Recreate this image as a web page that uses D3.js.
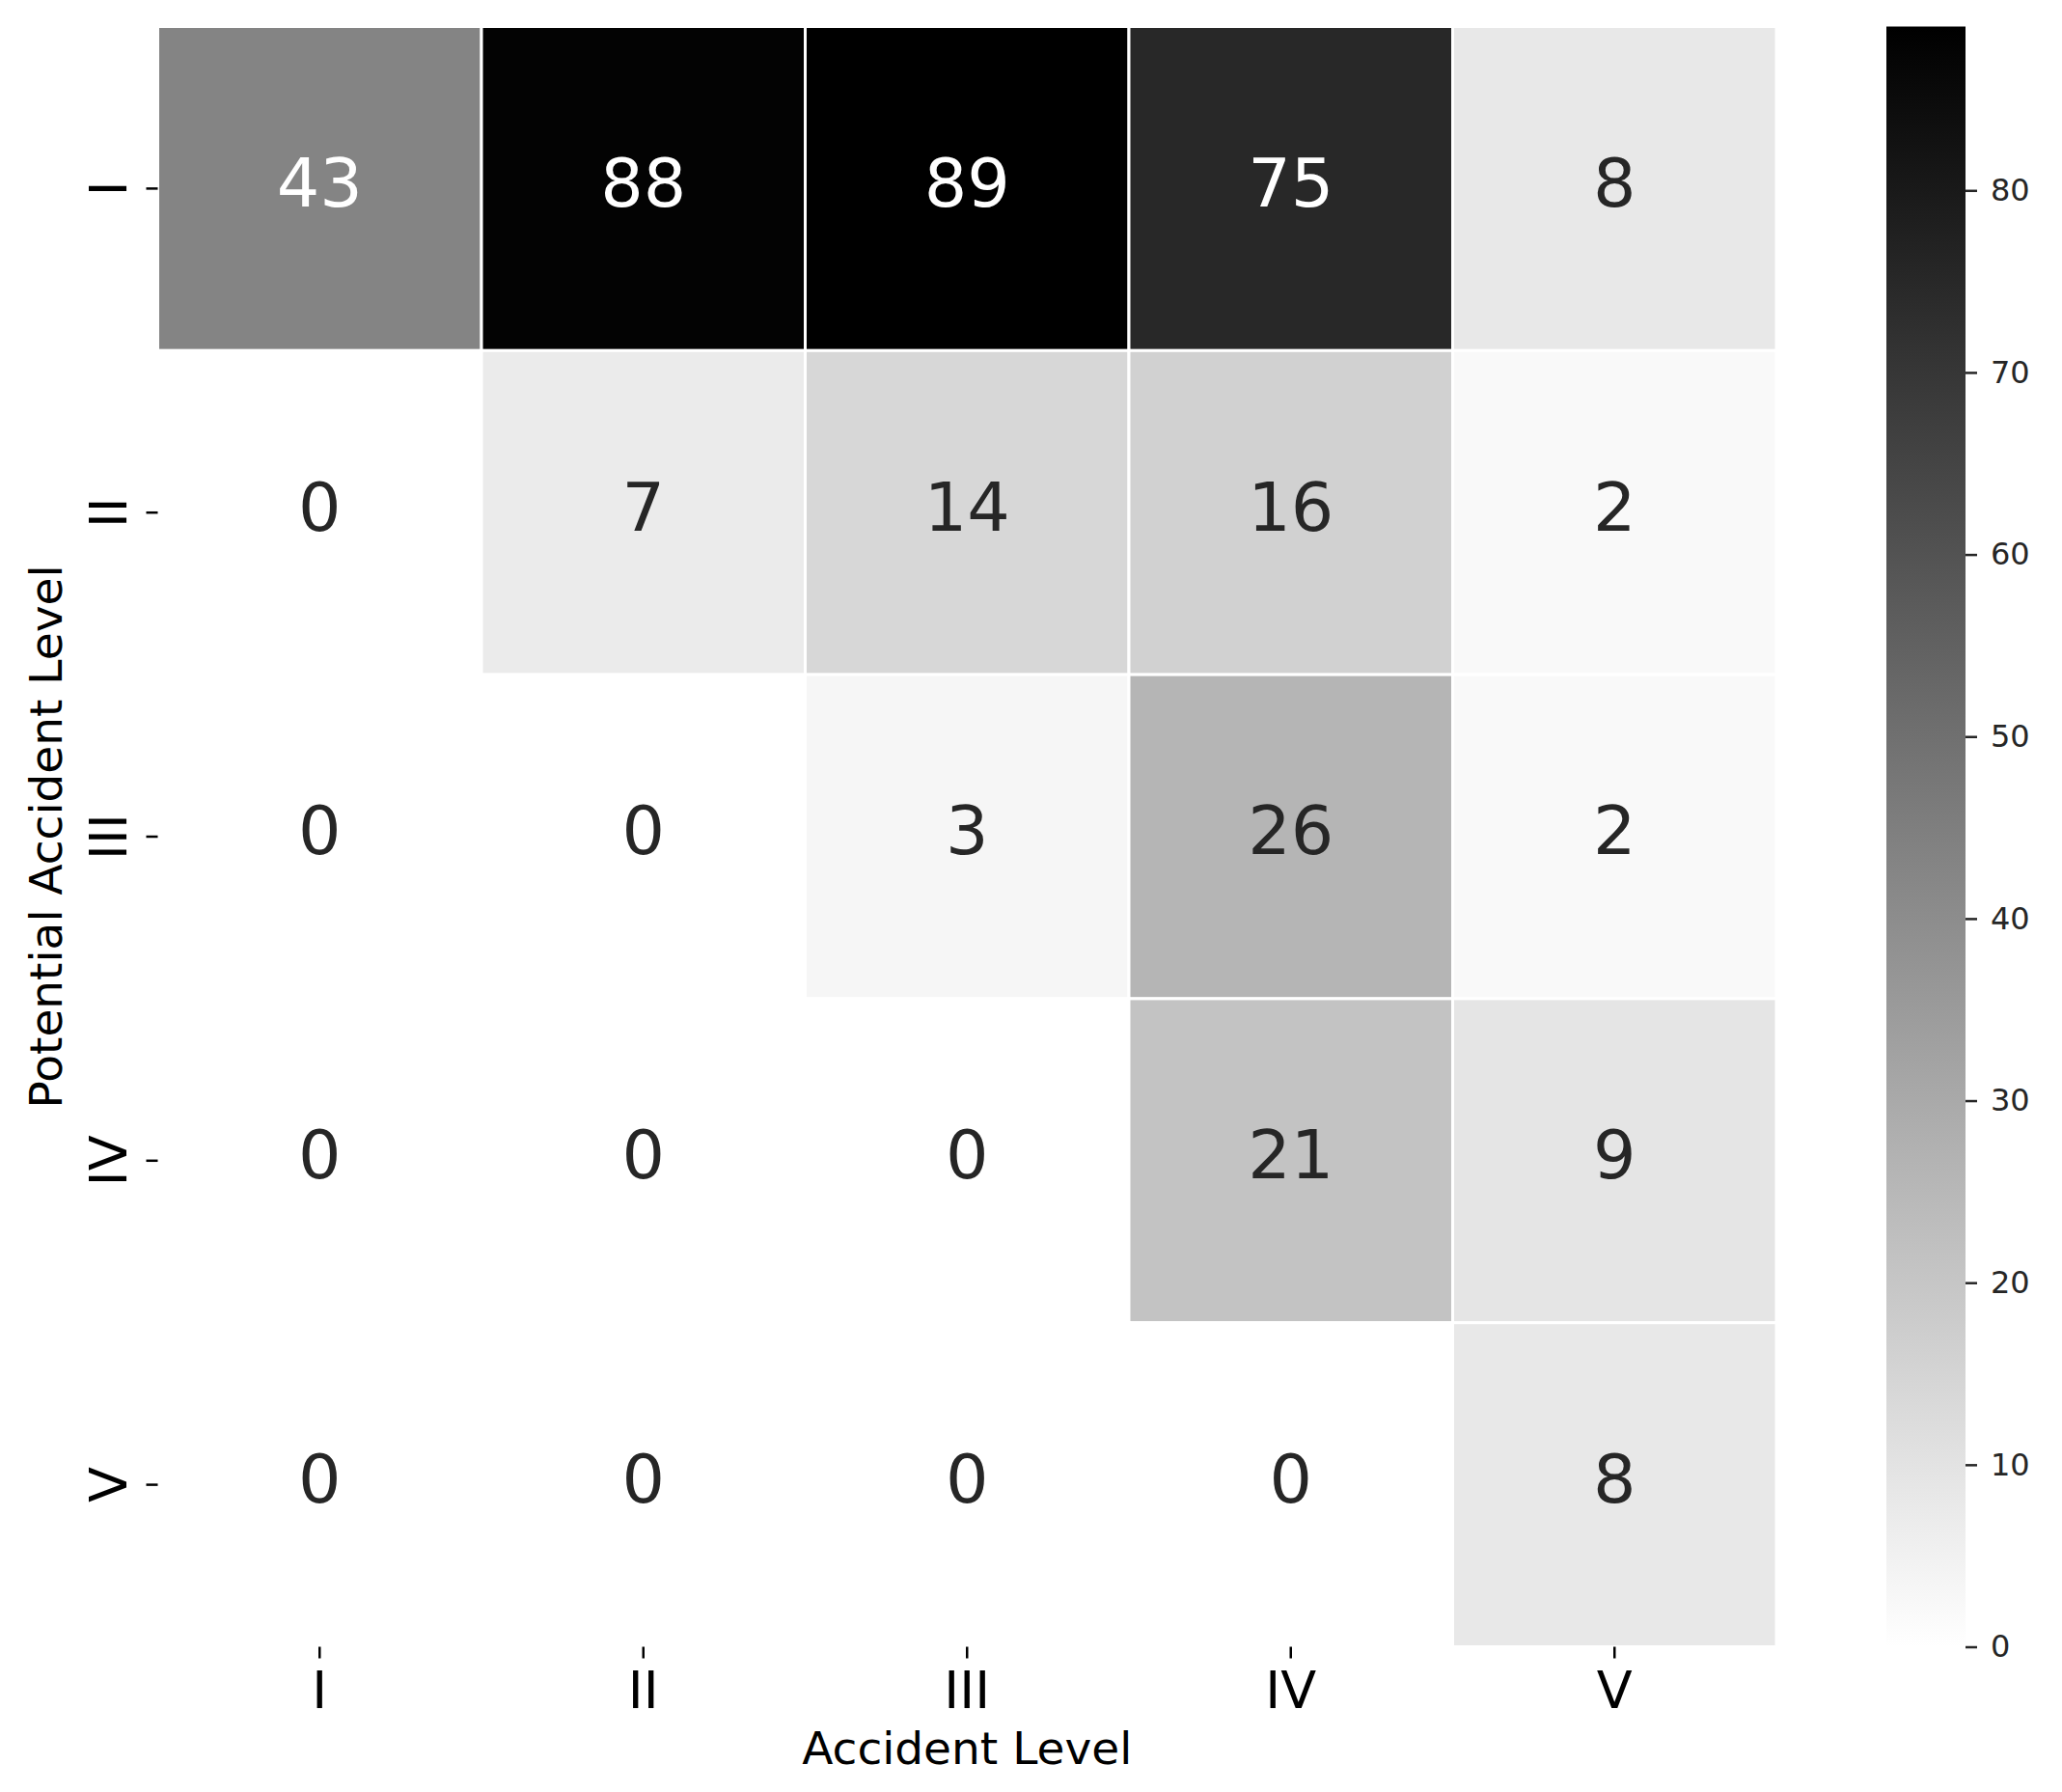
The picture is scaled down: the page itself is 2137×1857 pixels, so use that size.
<!DOCTYPE html>
<html>
<head>
<meta charset="utf-8">
<script src="https://cdn.jsdelivr.net/npm/d3@7"></script>
<style>
  body { margin: 0; background: #fff; }
  text { font-family: "DejaVu Sans", sans-serif; }
</style>
</head>
<body>
<div id="chart"></div>
<script>
// level names (same for both axes)
const accidentLevels = ["I", "II", "III", "IV", "V"];
const potentialLevels = ["I", "II", "III", "IV", "V"];

// counts: one array per potential accident level (row), columns = accident level
const rowI = [43, 88, 89, 75, 8];
const rowII = [0, 7, 14, 16, 2];
const rowIII = [0, 0, 3, 26, 2];
const rowIV = [0, 0, 0, 21, 9];
const rowV = [0, 0, 0, 0, 8];
const counts = [rowI, rowII, rowIII, rowIV, rowV];

const colorbarTicks = [0, 10, 20, 30, 40, 50, 60, 70, 80];

// page size
const W = 2137, H = 1857;
// heatmap area
const hm = { left: 163.5, right: 1841, top: 27.5, bottom: 1706.5 };
// colorbar area
const cb = { left: 1955, right: 2037 };

const svg = d3.select("#chart")
  .append("svg")
  .attr("width", W)
  .attr("height", H)
  .style("background", "#fff");

const vmax = d3.max(counts.flat());

// linear white -> black
const color = d3.scaleLinear()
  .domain([0, vmax])
  .range(["#ffffff", "#000000"])
  .interpolate(d3.interpolateRgb);

const x = d3.scaleBand()
  .domain(accidentLevels)
  .range([hm.left, hm.right]);

const y = d3.scaleBand()
  .domain(potentialLevels)
  .range([hm.top, hm.bottom]);

// flatten for drawing
const cells = [];
counts.forEach((row, i) => {
  row.forEach((v, j) => {
    cells.push({ row: potentialLevels[i], col: accidentLevels[j], value: v });
  });
});

// relative luminance like seaborn does it, to pick label colour
const luminance = (c) => {
  const rgb = d3.rgb(c);
  const lin = [rgb.r, rgb.g, rgb.b].map((v) => {
    v = v / 255;
    return v <= 0.03928 ? v / 12.92 : Math.pow((v + 0.055) / 1.055, 2.4);
  });
  return 0.2126 * lin[0] + 0.7152 * lin[1] + 0.0722 * lin[2];
};

// cells
svg.append("g")
  .selectAll("rect")
  .data(cells)
  .join("rect")
  .attr("x", (d) => x(d.col))
  .attr("y", (d) => y(d.row))
  .attr("width", x.bandwidth())
  .attr("height", y.bandwidth())
  .attr("fill", (d) => color(d.value))
  .attr("stroke", "#ffffff")
  .attr("stroke-width", 3);

// annotations
const annotSize = 70;
svg.append("g")
  .selectAll("text")
  .data(cells)
  .join("text")
  .attr("x", (d) => x(d.col) + x.bandwidth() / 2)
  .attr("y", (d) => y(d.row) + y.bandwidth() / 2 + 0.364 * annotSize - 7)
  .attr("text-anchor", "middle")
  .style("font-size", annotSize + "px")
  .attr("fill", (d) => (luminance(color(d.value)) < 0.408 ? "#ffffff" : "#262626"))
  .text((d) => d.value);

// x axis
const xAxis = svg.append("g")
  .attr("transform", `translate(0, ${hm.bottom})`)
  .call(d3.axisBottom(x).tickSize(12).tickPadding(10));
xAxis.select(".domain").remove();
xAxis.selectAll(".tick line").attr("stroke", "#000").attr("stroke-width", 2.5);
xAxis.selectAll(".tick text")
  .attr("dy", null)
  .attr("y", 63.5)
  .style("font-size", "54px")
  .attr("fill", "#000");

// y axis (labels rotated)
const yAxis = svg.append("g")
  .attr("transform", `translate(${hm.left}, 0)`)
  .call(d3.axisLeft(y).tickSize(12));
yAxis.select(".domain").remove();
yAxis.selectAll(".tick line").attr("stroke", "#000").attr("stroke-width", 2.5);
yAxis.selectAll(".tick text")
  .attr("x", null)
  .attr("dy", null)
  .attr("text-anchor", "middle")
  .attr("transform", "translate(-33, 0) rotate(-90)")
  .style("font-size", "54px")
  .attr("fill", "#000");

// axis titles
svg.append("text")
  .attr("x", (hm.left + hm.right) / 2)
  .attr("y", 1828)
  .attr("text-anchor", "middle")
  .style("font-size", "47px")
  .attr("fill", "#000")
  .text("Accident Level");

svg.append("text")
  .attr("transform", `translate(64, ${(hm.top + hm.bottom) / 2}) rotate(-90)`)
  .attr("text-anchor", "middle")
  .style("font-size", "47px")
  .attr("fill", "#000")
  .text("Potential Accident Level");

// colorbar
const cbScale = d3.scaleLinear()
  .domain([0, vmax])
  .range([hm.bottom, hm.top]);

const defs = svg.append("defs");
const grad = defs.append("linearGradient")
  .attr("id", "cbGrad")
  .attr("x1", 0).attr("y1", 1)
  .attr("x2", 0).attr("y2", 0);
d3.range(0, 1.0001, 0.1).forEach((t) => {
  grad.append("stop")
    .attr("offset", t)
    .attr("stop-color", color(t * vmax));
});

svg.append("rect")
  .attr("x", cb.left)
  .attr("y", cbScale(vmax))
  .attr("width", cb.right - cb.left)
  .attr("height", cbScale(0) - cbScale(vmax))
  .attr("fill", "url(#cbGrad)");

const cbAxis = svg.append("g")
  .attr("transform", `translate(${cb.right}, 0)`)
  .call(d3.axisRight(cbScale).tickValues(colorbarTicks).tickSize(12).tickPadding(14));
cbAxis.select(".domain").remove();
cbAxis.selectAll(".tick line").attr("stroke", "#262626").attr("stroke-width", 2.5);
cbAxis.selectAll(".tick text")
  .style("font-size", "32px")
  .attr("fill", "#262626");
</script>
</body>
</html>
